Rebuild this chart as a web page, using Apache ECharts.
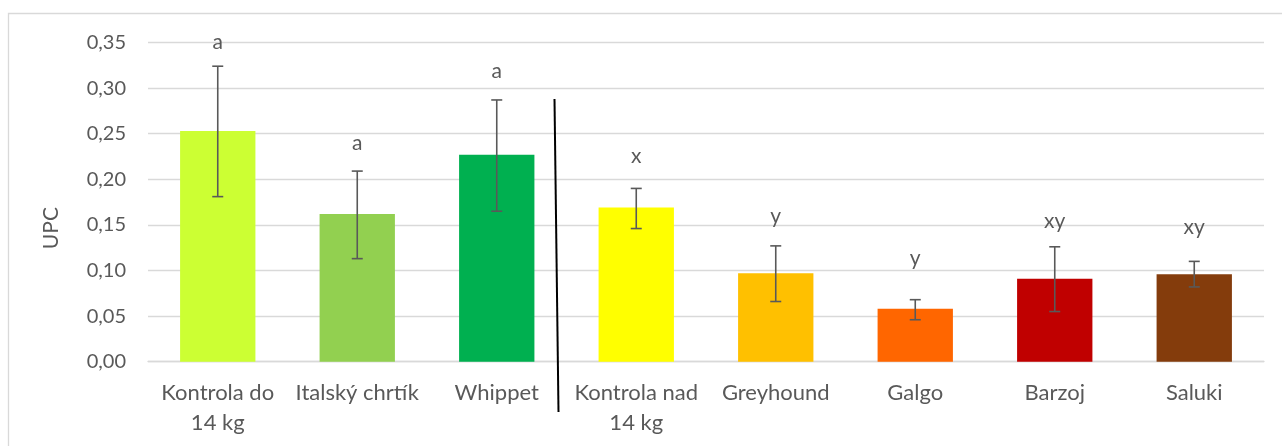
<!DOCTYPE html>
<html>
<head>
<meta charset="utf-8">
<script src="https://cdn.jsdelivr.net/npm/echarts@6/dist/echarts.min.js"></script>
<style>
  html, body { margin: 0; padding: 0; background: #fff; }
  #chart { width: 1282px; height: 446px; }
</style>
</head>
<body>
<div id="chart"></div>
<script>
// data
const categories = ['Kontrola do\n14 kg', 'Italský chrtík', 'Whippet', 'Kontrola nad\n14 kg', 'Greyhound', 'Galgo', 'Barzoj', 'Saluki']
const means = [0.253, 0.162, 0.227, 0.169, 0.097, 0.058, 0.091, 0.096]
const errLow = [0.181, 0.113, 0.165, 0.146, 0.066, 0.046, 0.055, 0.082]
const errHigh = [0.324, 0.209, 0.287, 0.190, 0.127, 0.068, 0.126, 0.110]
const letters = ['a', 'a', 'a', 'x', 'y', 'y', 'xy', 'xy']
const letterPos = [0.350, 0.240, 0.319, 0.225, 0.159, 0.113, 0.154, 0.147]
const barColors = ['#CCFF33', '#92D050', '#00B050', '#FFFF00', '#FFC000', '#FF6600', '#C00000', '#843C0C']

const textColor = '#595959'
const fontFamily = 'Lato, "Open Sans", sans-serif'

const chart = echarts.init(document.getElementById('chart'))

const option = {
  animation: false,
  textStyle: { fontFamily: fontFamily },
  grid: { left: 148, right: 18, top: 42.5, bottom: 84.3 },
  xAxis: {
    type: 'category',
    data: categories,
    axisTick: { show: false },
    axisLine: { lineStyle: { color: '#d9d9d9', width: 1.3 } },
    axisLabel: { color: textColor, fontSize: 22, lineHeight: 30, margin: 16, interval: 0 }
  },
  yAxis: {
    type: 'value',
    min: 0,
    max: 0.35,
    interval: 0.05,
    name: 'UPC',
    nameLocation: 'middle',
    nameGap: 86,
    nameTextStyle: { color: textColor, fontSize: 21, padding: [0, 0, 0, -52] },
    axisLine: { show: false },
    axisTick: { show: false },
    splitLine: { lineStyle: { color: '#d9d9d9', width: 1.3 } },
    axisLabel: {
      color: textColor,
      fontSize: 20,
      margin: 22,
      formatter: (v) => v.toFixed(2).replace('.', ',')
    }
  },
  graphic: [
    {
      // chart border
      type: 'rect',
      shape: { x: 8.5, y: 13.5, width: 1290, height: 450 },
      style: { fill: 'none', stroke: '#d9d9d9', lineWidth: 1.3 },
      silent: true
    },
    {
      // divider between the two groups
      type: 'line',
      shape: { x1: 554.5, y1: 99, x2: 558.5, y2: 412 },
      style: { stroke: '#000', lineWidth: 2 },
      z: 100
    }
  ],
  series: [
    {
      type: 'bar',
      barWidth: '54%',
      data: means.map((v, i) => ({ value: v, itemStyle: { color: barColors[i] } }))
    },
    {
      // error bars
      type: 'custom',
      data: errLow.map((lo, i) => [i, lo, errHigh[i]]),
      renderItem: (params, api) => {
        const lo = api.coord([api.value(0), api.value(1)])
        const hi = api.coord([api.value(0), api.value(2)])
        const cap = 5.5
        const style = { stroke: textColor, lineWidth: 1.6 }
        return {
          type: 'group',
          children: [
            { type: 'line', shape: { x1: hi[0], y1: hi[1], x2: lo[0], y2: lo[1] }, style: style },
            { type: 'line', shape: { x1: hi[0] - cap, y1: hi[1], x2: hi[0] + cap, y2: hi[1] }, style: style },
            { type: 'line', shape: { x1: lo[0] - cap, y1: lo[1], x2: lo[0] + cap, y2: lo[1] }, style: style }
          ]
        }
      },
      z: 10
    },
    {
      // significance letters
      type: 'custom',
      data: letterPos.map((v, i) => [i, v]),
      renderItem: (params, api) => {
        const p = api.coord([api.value(0), api.value(1)])
        return {
          type: 'text',
          x: p[0],
          y: p[1],
          style: {
            text: letters[params.dataIndex],
            fill: textColor,
            font: '21px ' + fontFamily,
            align: 'center',
            verticalAlign: 'middle'
          }
        }
      },
      z: 10
    }
  ]
}

chart.setOption(option)
</script>
</body>
</html>
